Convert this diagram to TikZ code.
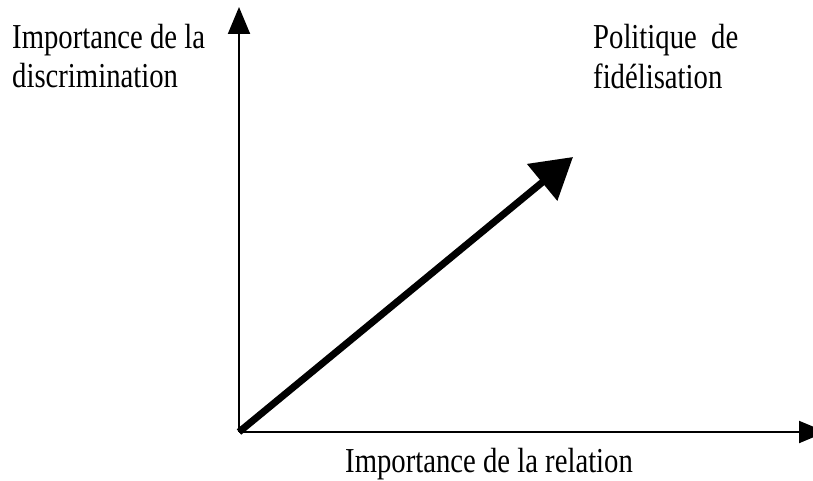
\documentclass[tikz,border=0pt]{standalone}
\usepackage{fontspec}
\setmainfont{Liberation Serif}
\usetikzlibrary{arrows.meta}
\tikzset{
  axis/.style={line width=2pt,-{Triangle[length=27pt,width=22pt]}},
  bigarrow/.style={line width=7pt,-{Triangle[length=40pt,width=46pt]}},
  lbl/.style={anchor=base west,inner sep=0pt,font=\fontsize{35pt}{39pt}\selectfont,align=left}
}
\newcommand{\sq}[1]{\scalebox{0.82}[1]{#1}}
\begin{document}
\begin{tikzpicture}[x=1pt,y=-1pt]
\useasboundingbox (0,0) rectangle (813,481);
\coordinate (O) at (239,432);
\coordinate (Ytop) at (239,7);
\coordinate (Xend) at (826,432);
\coordinate (Dend) at (573,157);
\draw[axis] (O) -- (Ytop);
\draw[axis] (O) -- (Xend);
\draw[bigarrow] (O) -- (Dend);
\node[lbl] (ylab1) at (12,49) {\sq{Importance de la}};
\node[lbl] (ylab2) at (12,88) {\sq{discrimination}};
\node[lbl] (plab1) at (593,49) {\sq{Politique\ \ de}};
\node[lbl] (plab2) at (593,89) {\sq{fidélisation}};
\node[lbl] (xlab) at (345,472) {\sq{Importance de la relation}};
\end{tikzpicture}
\end{document}
